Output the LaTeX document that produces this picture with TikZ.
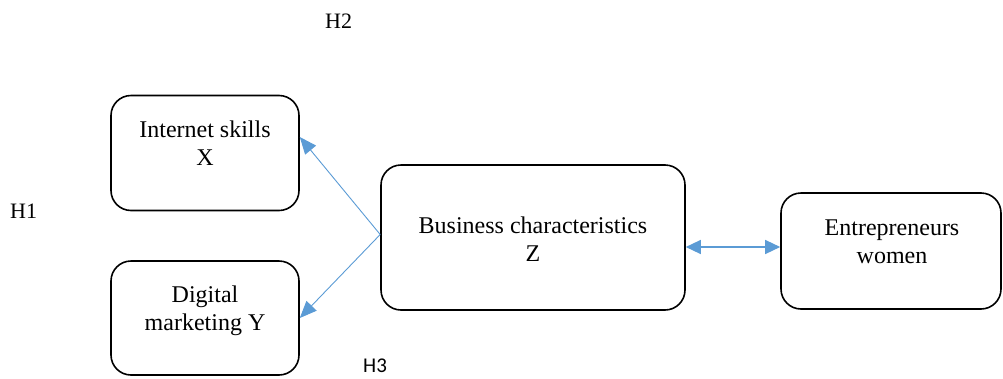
\documentclass[tikz,border=0pt]{standalone}
\usepackage{fontspec}
\setmainfont{Liberation Serif}
\newfontfamily\calib{Carlito}
\usetikzlibrary{arrows.meta}
\definecolor{arrblue}{HTML}{5B9BD5}
\tikzset{
  box/.style={draw=black, line width=1.6pt, rounded corners=20pt, inner sep=0pt, fill=none},
  lbl/.style={align=center, inner sep=0pt, anchor=base, font=\fontsize{24}{28}\selectfont},
  hlbl/.style={inner sep=0pt, anchor=base west, font=\fontsize{22}{26}\selectfont},
  arr/.style={draw=arrblue, line width=0.9pt, -{Triangle[length=17pt,width=14pt]}},
  darr/.style={draw=arrblue, line width=1.3pt, {Triangle[length=15pt,width=14pt]}-{Triangle[length=15pt,width=14pt]}},
}
\begin{document}
\begin{tikzpicture}[x=1pt,y=-1pt]
\useasboundingbox (0,0) rectangle (1003,378);
% boxes
\node[box, minimum width=188pt, minimum height=115pt] (bx) at (205,153) {};
\node[box, minimum width=188pt, minimum height=114pt] (by) at (205,318) {};
\node[box, minimum width=304pt, minimum height=145pt] (bz) at (533,237.5) {};
\node[box, minimum width=220pt, minimum height=116pt] (be) at (891,251) {};
% texts (anchor = baseline of the last line)
\node[lbl] (tx) at (205,165) {Internet skills\\X};
\node[lbl] (ty) at (205,330) {Digital\\marketing Y};
\node[lbl] (tz) at (533,261) {Business characteristics\\Z};
\node[lbl] (te) at (892,263) {Entrepreneurs\\women};
% hypothesis labels
\node[hlbl] (h2) at (325,28) {H2};
\node[hlbl] (h1) at (10,218) {H1};
\node[hlbl, font=\calib\fontsize{21}{25}\selectfont] (h3) at (363,372) {H3};
% connectors
\coordinate (xt) at ([yshift=16pt]bx.east);
\coordinate (zw) at ([yshift=3pt]bz.west);
\draw[arr] (zw) -- (xt);
\draw[arr] (zw) -- (by.east);
\coordinate (ea) at ([yshift=4pt]be.west);
\draw[darr] (bz.east |- ea) -- (ea);
\end{tikzpicture}
\end{document}
